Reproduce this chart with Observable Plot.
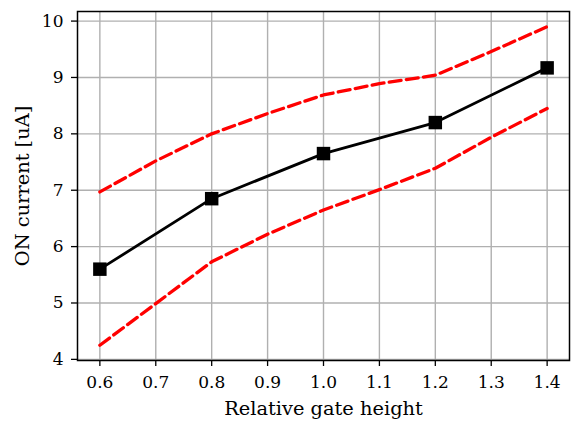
<!DOCTYPE html>
<html>
<head>
<meta charset="utf-8">
<script src="https://cdn.jsdelivr.net/npm/d3@7"></script>
<script src="https://cdn.jsdelivr.net/npm/@observablehq/plot@0.6"></script>
<style>
  html, body { margin: 0; padding: 0; background: #fff; }
  #chart { width: 571px; height: 421px; }
</style>
</head>
<body>
<div id="chart"></div>
<script>
const meanX = [0.6, 0.8, 1.0, 1.2, 1.4];
const meanY = [5.60, 6.85, 7.65, 8.20, 9.17];
const bandX = [0.6, 0.7, 0.8, 0.9, 1.0, 1.1, 1.2, 1.3, 1.4];
const upperY = [6.97, 7.52, 8.00, 8.36, 8.69, 8.89, 9.04, 9.46, 9.90];
const lowerY = [4.25, 4.99, 5.73, 6.22, 6.65, 7.01, 7.39, 7.94, 8.45];
const xTicks = [0.6, 0.7, 0.8, 0.9, 1.0, 1.1, 1.2, 1.3, 1.4];
const yTicks = [4, 5, 6, 7, 8, 9, 10];
const xLabel = "Relative gate height";
const yLabel = "ON current [uA]";

const mean = meanX.map((x, i) => ({x, y: meanY[i]}));
const upper = bandX.map((x, i) => ({x, y: upperY[i]}));
const lower = bandX.map((x, i) => ({x, y: lowerY[i]}));

const font = "'DejaVu Serif', serif";

const chart = Plot.plot({
  width: 571,
  height: 421,
  marginLeft: 77,
  marginRight: 2,
  marginTop: 11,
  marginBottom: 61,
  style: {fontFamily: font, fontSize: "17px", color: "#000", background: "#fff", overflow: "visible"},
  x: {domain: [0.56, 1.44]},
  y: {domain: [3.98, 10.17]},
  marks: [
    Plot.gridX(xTicks, {stroke: "#b0b0b0", strokeOpacity: 1, strokeWidth: 1.4}),
    Plot.gridY(yTicks, {stroke: "#b0b0b0", strokeOpacity: 1, strokeWidth: 1.4}),
    Plot.axisX(xTicks, {tickSize: 6, tickPadding: 9, tickFormat: d3.format(".1f"), fontSize: 17, label: null, strokeWidth: 1.3}),
    Plot.axisY(yTicks, {tickSize: 6, tickPadding: 8, tickFormat: d3.format("d"), fontSize: 17, label: null, strokeWidth: 1.3}),
    Plot.line(upper, {x: "x", y: "y", stroke: "#ff0000", strokeWidth: 3.3, strokeDasharray: "12,5.3"}),
    Plot.line(lower, {x: "x", y: "y", stroke: "#ff0000", strokeWidth: 3.3, strokeDasharray: "12,5.3"}),
    Plot.line(mean, {x: "x", y: "y", stroke: "#000", strokeWidth: 2.8}),
    Plot.dot(mean, {x: "x", y: "y", symbol: "square", r: 7.6, fill: "#000", stroke: "none"}),
    Plot.frame({stroke: "#000", strokeWidth: 1.5}),
    Plot.text([xLabel], {frameAnchor: "bottom", dy: 54, fontSize: 19.4, fill: "#000"}),
    Plot.text([yLabel], {frameAnchor: "left", dx: -55, rotate: -90, textAnchor: "middle", fontSize: 19.4, fill: "#000"})
  ]
});
document.getElementById("chart").appendChild(chart);
</script>
</body>
</html>
